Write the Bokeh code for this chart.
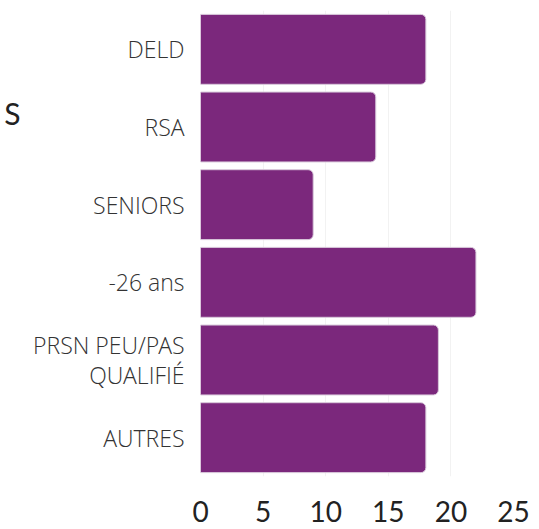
from bokeh.plotting import figure
from bokeh.models import Range1d, FixedTicker, LinearAxis
from bokeh.embed import file_html
from bokeh.resources import INLINE

categories = ["DELD", "RSA", "SENIORS", "-26 ans", "PRSN PEU/PAS QUALIFIÉ", "AUTRES"]
values = [18, 14, 9, 22, 19, 18]
x_ticks = [0, 5, 10, 15, 20, 25]
# category tick labels (the long one is split over two lines)
y_ticks = [0, 1, 2, 3, 3.81, 4.19, 5]
y_tick_labels = ["DELD", "RSA", "SENIORS", "-26 ans", "PRSN PEU/PAS", "QUALIFIÉ", "AUTRES"]
# the clipped title fragment seen at the left edge
title_ticks = [0.825]
title_labels = ["S"]
positions = list(range(len(categories)))

p = figure(
    width=539, height=529,
    y_range=Range1d(5.5, -0.5),
    x_range=Range1d(0, 25),
    output_backend="svg", toolbar_location=None,
    min_border_left=200, min_border_right=26, min_border_top=10, min_border_bottom=53,
)
p.outline_line_color = None
p.background_fill_color = "white"

p.hbar(y=positions, right=values, left=0, height=0.9,
       fill_color="#7b287c", line_color="#d8c8da", line_width=1,
       border_radius={"top_left": 0, "bottom_left": 0, "top_right": 5, "bottom_right": 5})

p.xgrid.grid_line_color = "#f2f2f2"
p.xgrid.level = "underlay"
p.ygrid.grid_line_color = None
p.xaxis.ticker = FixedTicker(ticks=x_ticks)
p.yaxis.ticker = FixedTicker(ticks=y_ticks)
p.yaxis.major_label_overrides = dict(zip(y_ticks, y_tick_labels))

title_axis = LinearAxis(ticker=FixedTicker(ticks=title_ticks),
                        major_label_overrides=dict(zip(title_ticks, title_labels)))
p.add_layout(title_axis, "left")

for ax in (p.xaxis[0], p.yaxis[0], title_axis):
    ax.axis_line_color = None
    ax.major_tick_line_color = None
    ax.minor_tick_line_color = None

yax = p.yaxis[0]
yax.major_label_text_font = "'Open Sans Light', 'Open Sans'"
yax.major_label_text_font_size = "23px"
yax.major_label_text_color = "#333333"
yax.major_label_standoff = 10

title_axis.major_label_text_font = "Lato"
title_axis.major_label_text_font_size = "30px"
title_axis.major_label_text_color = "#222222"
title_axis.major_label_standoff = 4

p.xaxis.major_label_text_font = "Lato"
p.xaxis.major_label_text_font_size = "28px"
p.xaxis.major_label_text_color = "#222222"
p.xaxis.major_label_standoff = 18

open("out.html", "w").write(file_html(p, INLINE))
